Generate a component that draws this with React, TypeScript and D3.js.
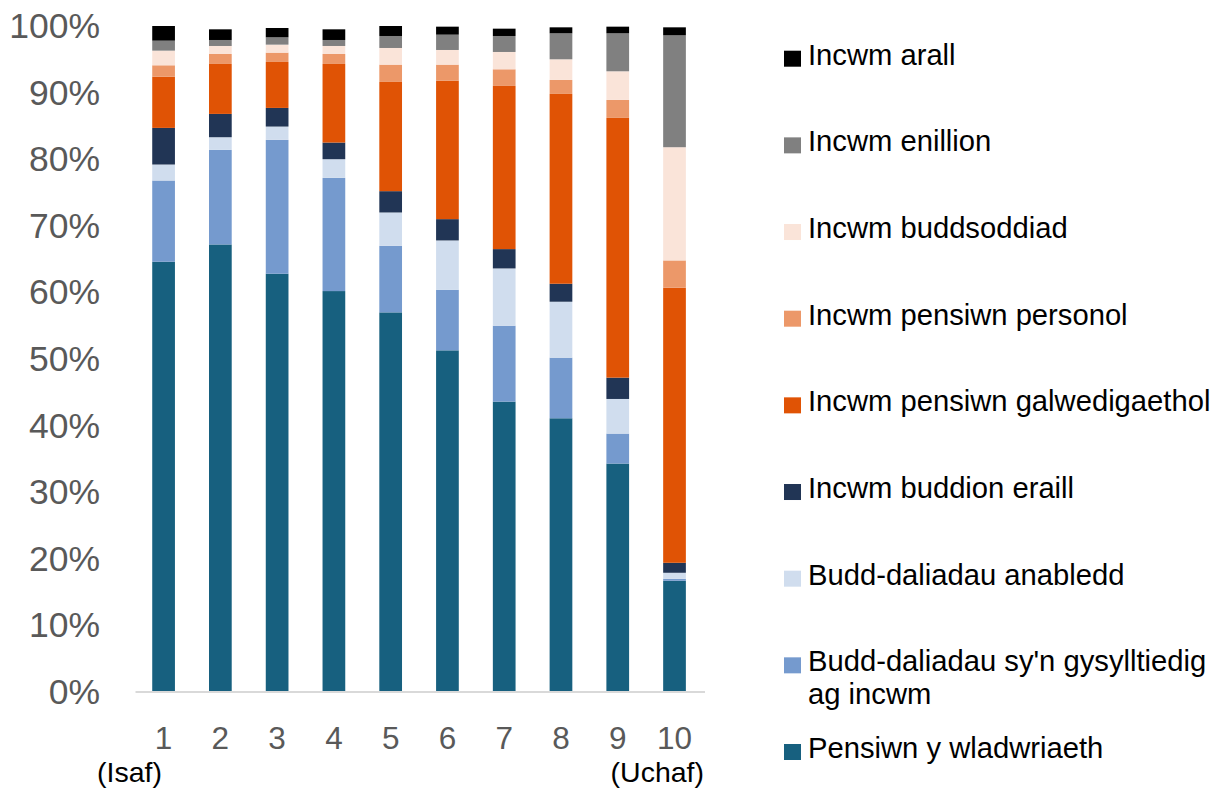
import React from "react";
import * as d3 from "d3";

const deciles = ["1", "2", "3", "4", "5", "6", "7", "8", "9", "10"];

// Series values (% of income), bottom to top
const pensiwnWladwriaeth = [64.6, 67.2, 62.8, 60.2, 57.0, 51.3, 43.6, 41.1, 34.3, 16.7];
const buddGysylltiedigIncwm = [12.2, 14.2, 20.1, 17.0, 10.0, 9.1, 11.4, 9.1, 4.5, 0.3];
const buddAnabledd = [2.4, 1.9, 2.0, 2.8, 5.0, 7.4, 8.6, 8.4, 5.2, 0.9];
const buddionEraill = [5.5, 3.5, 2.8, 2.5, 3.2, 3.2, 2.9, 2.7, 3.2, 1.5];
const pensiwnGalwedigaethol = [7.7, 7.5, 6.9, 11.8, 16.4, 20.8, 24.5, 28.5, 39.0, 41.3];
const pensiwnPersonol = [1.7, 1.5, 1.4, 1.5, 2.6, 2.4, 2.5, 2.1, 2.7, 4.1];
const buddsoddiad = [2.2, 1.2, 1.2, 1.2, 2.5, 2.2, 2.6, 3.1, 4.3, 17.0];
const enillion = [1.5, 0.9, 1.1, 0.9, 1.8, 2.3, 2.4, 3.9, 5.7, 16.8];
const arall = [2.2, 1.6, 1.4, 1.6, 1.5, 1.2, 1.1, 0.9, 1.0, 1.2];

const seriesKeys = ["sp", "ir", "dis", "ob", "occ", "pers", "inv", "earn", "other"];
const seriesValues = [
  pensiwnWladwriaeth, buddGysylltiedigIncwm, buddAnabledd, buddionEraill,
  pensiwnGalwedigaethol, pensiwnPersonol, buddsoddiad, enillion, arall,
];
const seriesColors = ["#17607F", "#759ACE", "#D0DDEE", "#213555", "#E05305", "#EC9869", "#FAE4D9", "#808080", "#000000"];

// Legend, top to bottom
const legendKeys = ["other", "earn", "inv", "pers", "occ", "ob", "dis", "ir", "sp"];
const legendLabels = [
  ["Incwm arall"],
  ["Incwm enillion"],
  ["Incwm buddsoddiad"],
  ["Incwm pensiwn personol"],
  ["Incwm pensiwn galwedigaethol"],
  ["Incwm buddion eraill"],
  ["Budd-daliadau anabledd"],
  ["Budd-daliadau sy'n gysylltiedig", "ag incwm"],
  ["Pensiwn y wladwriaeth"],
];

const yTicks = [0, 10, 20, 30, 40, 50, 60, 70, 80, 90, 100];

const FONT = "'Liberation Sans', Arial, Helvetica, sans-serif";

export default function App() {
  const W = 1221;
  const H = 789;

  const table = deciles.map((d, i) => {
    const row: any = { decile: d };
    seriesKeys.forEach((k, j) => (row[k] = seriesValues[j][i]));
    return row;
  });
  const stacked = d3.stack<any>().keys(seriesKeys)(table);

  const x = d3.scaleBand<string>().domain(deciles).range([135.2, 702.9]).paddingInner(0.6).paddingOuter(0.3);
  const y = d3.scaleLinear().domain([0, 100]).range([692, 26]);
  const color = d3.scaleOrdinal<string, string>().domain(seriesKeys).range(seriesColors);
  const legendY = d3.scalePoint<number>().domain(d3.range(legendKeys.length)).range([50.7, 744]);

  return (
    <svg width={W} height={H} style={{ position: "absolute", left: 0, top: 0, background: "#fff" }} fontFamily={FONT}>
      {stacked.map((s) => (
        <g key={s.key} fill={color(s.key)}>
          {s.map((d, i) => (
            <rect
              key={i}
              x={x(d.data.decile)}
              width={x.bandwidth()}
              y={y(d[1])}
              height={Math.max(0, y(d[0]) - y(d[1]))}
            />
          ))}
        </g>
      ))}
      <line x1={135.5} x2={705} y1={y(0)} y2={y(0)} stroke="#D9D9D9" strokeWidth={2} />
      {yTicks.map((t) => (
        <text key={t} x={100} y={y(t)} textAnchor="end" dominantBaseline="central" fontSize={35.5} fill="#595959">
          {t}%
        </text>
      ))}
      {deciles.map((d) => (
        <text key={d} x={(x(d) as number) + x.bandwidth() / 2} y={749} textAnchor="middle" fontSize={31.5} fill="#595959">
          {d}
        </text>
      ))}
      <text x={97} y={782} fontSize={28.5} fill="#000">(Isaf)</text>
      <text x={704} y={782} textAnchor="end" fontSize={28.5} fill="#000">(Uchaf)</text>
      {legendKeys.map((k, i) => {
        const top = legendY(i) as number;
        return (
          <g key={k}>
            <rect x={784} y={top} width={17} height={16} fill={color(k)} />
            {legendLabels[i].map((line, li) => (
              <text key={li} x={808} y={top + 14 + li * 33} fontSize={29.2} fill="#000">
                {line}
              </text>
            ))}
          </g>
        );
      })}
    </svg>
  );
}
